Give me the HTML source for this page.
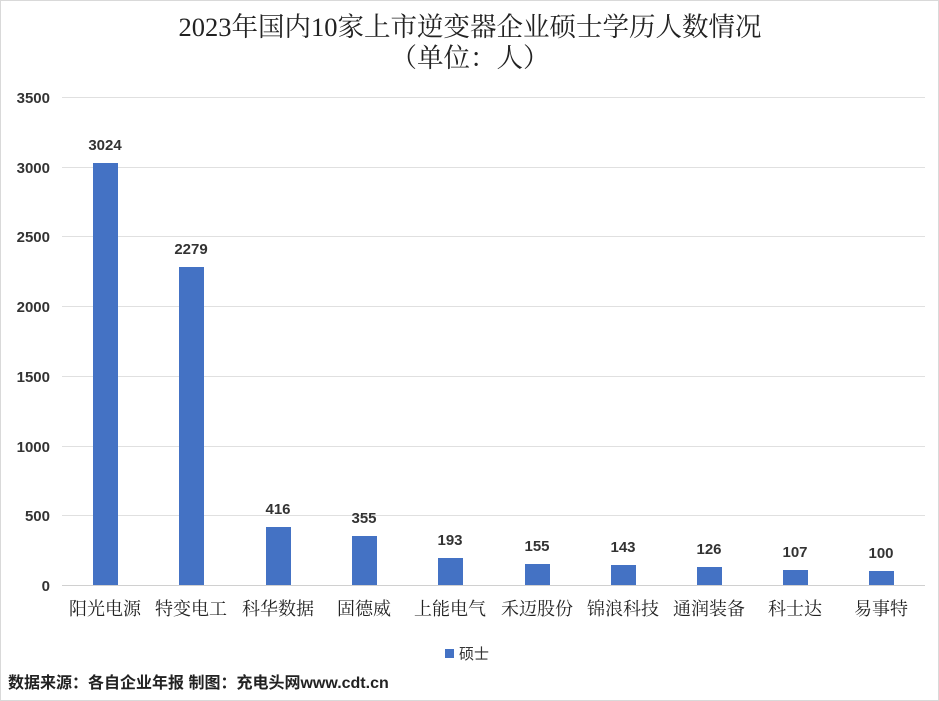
<!DOCTYPE html>
<html><head><meta charset="utf-8"><style>
body{margin:0;background:#fff;}
svg{display:block}
</style></head><body>
<svg width="939" height="701" xmlns="http://www.w3.org/2000/svg">
<rect x="0.5" y="0.5" width="938" height="700" fill="#fff" stroke="#d9d9d9"/>
<g font-family="Liberation Serif, Noto Serif CJK SC, serif" font-size="26.5" fill="#222" text-anchor="middle">
<text x="470" y="36">2023年国内10家上市逆变器企业硕士学历人数情况</text>
<text x="470" y="67">（单位：人）</text>
</g>
<g stroke="#e0e0e0" stroke-width="1">
<line x1="62" x2="925" y1="97.5" y2="97.5"/>
<line x1="62" x2="925" y1="167.5" y2="167.5"/>
<line x1="62" x2="925" y1="236.5" y2="236.5"/>
<line x1="62" x2="925" y1="306.5" y2="306.5"/>
<line x1="62" x2="925" y1="376.5" y2="376.5"/>
<line x1="62" x2="925" y1="446.5" y2="446.5"/>
<line x1="62" x2="925" y1="515.5" y2="515.5"/>
</g>
<line x1="62" x2="925" y1="585.5" y2="585.5" stroke="#d0d0d0"/>
<g font-family="Liberation Sans, sans-serif" font-size="15" font-weight="bold" fill="#333" text-anchor="end">
<text x="50" y="103">3500</text><text x="50" y="173">3000</text><text x="50" y="242">2500</text>
<text x="50" y="312">2000</text><text x="50" y="382">1500</text><text x="50" y="452">1000</text>
<text x="50" y="521">500</text><text x="50" y="591">0</text>
</g>
<g fill="#4472c4">
<rect x="93" y="163" width="25" height="422"/>
<rect x="179" y="267" width="25" height="318"/>
<rect x="266" y="527" width="25" height="58"/>
<rect x="352" y="536" width="25" height="49"/>
<rect x="438" y="558" width="25" height="27"/>
<rect x="525" y="564" width="25" height="21"/>
<rect x="611" y="565" width="25" height="20"/>
<rect x="697" y="567" width="25" height="18"/>
<rect x="783" y="570" width="25" height="15"/>
<rect x="869" y="571" width="25" height="14"/>
</g>
<g font-family="Liberation Sans, sans-serif" font-size="15" font-weight="bold" fill="#333" text-anchor="middle">
<text x="105" y="150">3024</text><text x="191" y="254">2279</text><text x="278" y="514">416</text>
<text x="364" y="523">355</text><text x="450" y="545">193</text><text x="537" y="551">155</text>
<text x="623" y="552">143</text><text x="709" y="554">126</text><text x="795" y="557">107</text>
<text x="881" y="558">100</text>
</g>
<g font-family="Liberation Serif, Noto Serif CJK SC, serif" font-size="18" fill="#222" text-anchor="middle">
<text x="105" y="615">阳光电源</text><text x="191" y="615">特变电工</text><text x="278" y="615">科华数据</text>
<text x="364" y="615">固德威</text><text x="450" y="615">上能电气</text><text x="537" y="615">禾迈股份</text>
<text x="623" y="615">锦浪科技</text><text x="709" y="615">通润装备</text><text x="795" y="615">科士达</text>
<text x="881" y="615">易事特</text>
</g>
<rect x="445" y="649" width="9" height="9" fill="#4472c4"/>
<text x="459" y="659" font-family="Liberation Sans, Noto Sans CJK SC, sans-serif" font-size="15" fill="#333">硕士</text>
<text x="8" y="688" font-family="Liberation Sans, Noto Sans CJK SC, sans-serif" font-size="16" font-weight="bold" fill="#222">数据来源：各自企业年报 制图：充电头网www.cdt.cn</text>
</svg>
</body></html>
